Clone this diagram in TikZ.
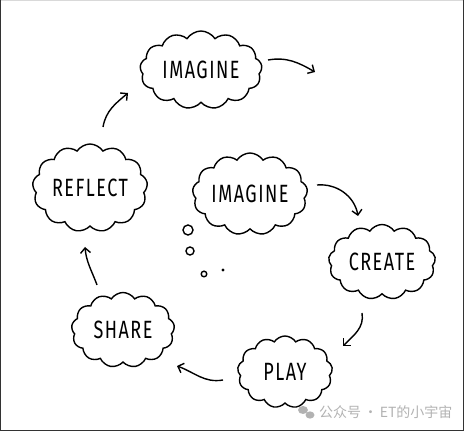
\documentclass[tikz,border=0pt]{standalone}
\usepackage{fontspec}
\usetikzlibrary{shapes.symbols,arrows.meta}
\newfontfamily\handfont{Fira Sans}[FakeStretch=0.72, LetterSpace=6]
\newfontfamily\cjkfont{Noto Sans CJK SC}

\begin{document}
\begin{tikzpicture}[
    x=1pt, y=1pt,
    idea/.style={draw, cloud, cloud puffs=13, cloud puff arc=115, cloud ignores aspect,
        line width=1.4pt, inner sep=0pt, font=\handfont\fontsize{25}{25}\selectfont},
    flow/.style={line width=1.4pt, -{Straight Barb[length=5pt,width=10pt]}},
    bubble/.style={line width=1.4pt}
]
    % Frame
    \useasboundingbox (0,0) rectangle (464,431);
    \draw[black!15, line width=1pt] (0,430.5) -- (464,430.5);
    \draw[black!80, line width=1pt] (0.5,431) -- (0.5,0.5) -- (463.5,0.5) -- (463.5,431);

    % Clouds of the cycle
    \node[idea, minimum width=122pt, minimum height=78pt] (imagineTop) at (201,361) {IMAGINE};
    \node[idea, minimum width=115pt, minimum height=88pt] (reflect) at (90,243) {REFLECT};
    \node[idea, minimum width=103pt, minimum height=75pt] (share) at (123,101) {SHARE};
    \node[idea, minimum width=95pt, minimum height=72pt] (play) at (285,59) {PLAY};
    \node[idea, minimum width=107pt, minimum height=75pt] (create) at (382,169) {CREATE};
    % Thought cloud
    \node[idea, minimum width=115pt, minimum height=82pt] (imagineMid) at (250,237) {IMAGINE};

    % Thought bubbles
    \draw[bubble] (188,201) circle (5);
    \draw[bubble] (190,180) circle (4);
    \draw[bubble] (204,157) circle (2.8);
    \fill (223,161) circle (1.7);

    % Ends of the arrows
    \coordinate (t1) at (268,371);
    \coordinate (t2) at (315,359);
    \coordinate (m1) at (317,246);
    \coordinate (m2) at (358,215);
    \coordinate (c1) at (362,118);
    \coordinate (c2) at (343,85);
    \coordinate (p1) at (223,51);
    \coordinate (p2) at (177,65);
    \coordinate (s1) at (97,146);
    \coordinate (s2) at (85,184);
    \coordinate (r1) at (103,304);
    \coordinate (r2) at (128,338);

    % Arrows
    \draw[flow] (t1) to[out=10, in=150] (t2);
    \draw[flow] (m1) to[out=5, in=100] (m2);
    \draw[flow] (c1) to[out=-80, in=45] (c2);
    \draw[flow] (p1) to[out=190, in=-20] (p2);
    \draw[flow] (s1) to[out=110, in=-85] (s2);
    \draw[flow] (r1) to[out=80, in=-140] (r2);

    % Watermark
    \fill[black!30] (303,21) ellipse (5 and 4);
    \fill[black!30] (310,16) ellipse (4.5 and 3.6);
    \node[text=black!30, font=\cjkfont\fontsize{14}{14}\selectfont, anchor=west, inner sep=0pt]
        (mark) at (319,19) {公众号\,·\,ET的小宇宙};
\end{tikzpicture}
\end{document}
